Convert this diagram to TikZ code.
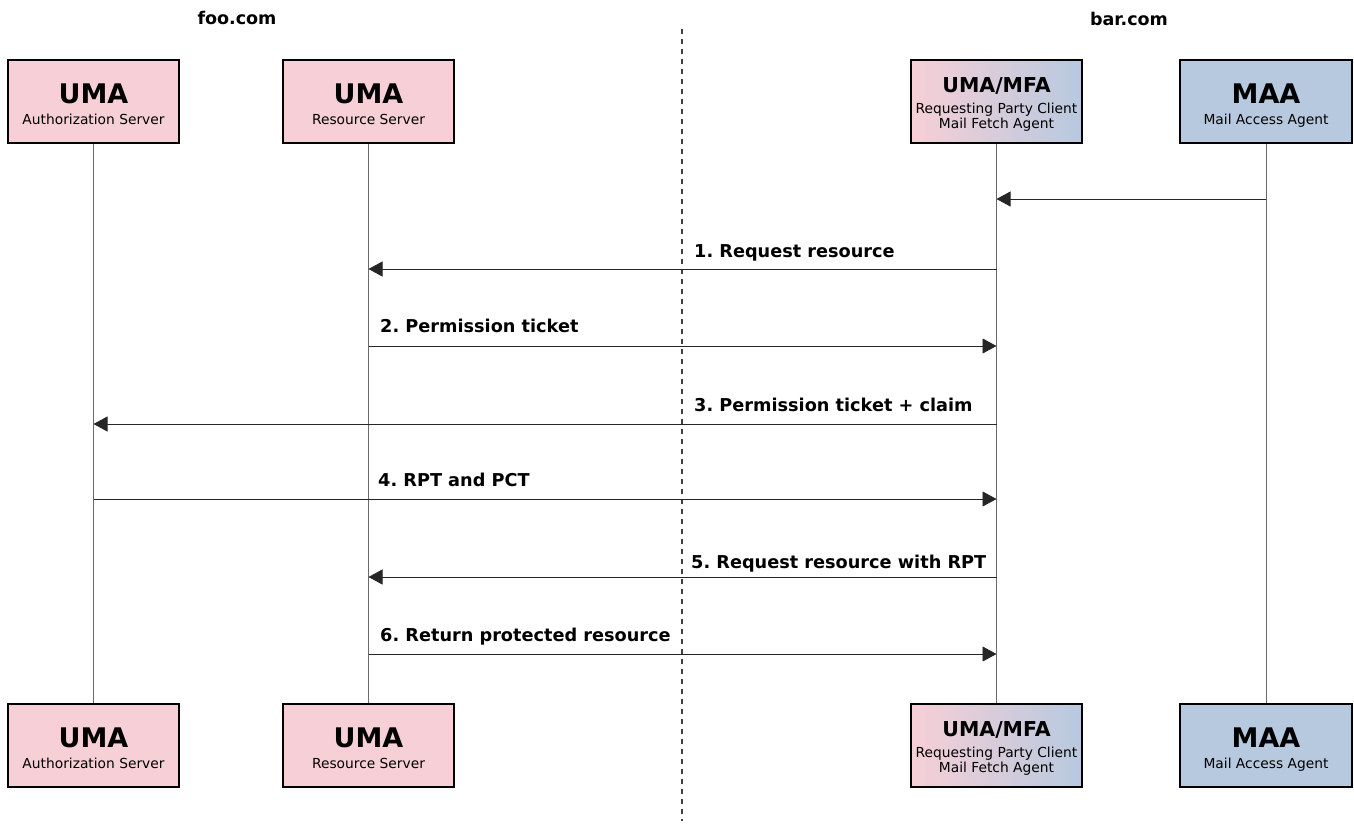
\documentclass[tikz,border=0pt]{standalone}
\usepackage{fontspec}
\setmainfont{DejaVu Sans}
\usetikzlibrary{arrows.meta}
\definecolor{umapink}{HTML}{F7CFD6}
\definecolor{maablue}{HTML}{B7C9DF}
\definecolor{lifegray}{HTML}{6A6A6A}
\tikzset{
  actor/.style={draw=black, line width=1.3pt, minimum width=171pt, minimum height=83pt, inner sep=0pt, align=center, anchor=center, font=\fontsize{13.8}{15}\selectfont},
  pinkbox/.style={actor, fill=umapink},
  bluebox/.style={actor, fill=maablue},
  mixbox/.style={actor, left color=umapink, right color=maablue},
  lifeline/.style={draw=lifegray, line width=1pt},
  msg/.style={draw=black!85, line width=0.9pt, -{Triangle[length=14pt,width=15pt]}},
  msglabel/.style={anchor=base west, inner sep=0pt, font=\fontsize{17.7}{21}\selectfont\bfseries},
  sitelabel/.style={inner sep=0pt, font=\fontsize{17.5}{20}\selectfont\bfseries},
  divider/.style={draw=black!75, line width=1.3pt, dash pattern=on 5pt off 5pt},
}
\newcommand{\bigtitle}[2]{\rule{0pt}{#2}{\fontsize{27}{30}\selectfont\bfseries #1}}
\newcommand{\midtitle}[1]{\rule{0pt}{21pt}{\fontsize{20.5}{24}\selectfont\bfseries #1}}
\begin{document}
\frenchspacing
\begin{tikzpicture}[x=1pt,y=-1pt]
\useasboundingbox (0,0) rectangle (1354,825);

% domains
\node[sitelabel] (foo) at (237,18) {foo.com};
\node[sitelabel] (bar) at (1129,19) {bar.com};

% divider
\coordinate (dtop) at (682,29);
\coordinate (dbot) at (682,821);
\draw[divider] (dtop) -- (dbot);

% lifelines
\coordinate (asT) at (93.5,143);
\coordinate (asB) at (93.5,704);
\coordinate (rsT) at (368.5,143);
\coordinate (rsB) at (368.5,704);
\coordinate (mfT) at (996.5,143);
\coordinate (mfB) at (996.5,704);
\coordinate (maT) at (1266,143);
\coordinate (maB) at (1266,704);
\draw[lifeline] (asT) -- (asB);
\draw[lifeline] (rsT) -- (rsB);
\draw[lifeline] (mfT) -- (mfB);
\draw[lifeline] (maT) -- (maB);

% top actors
\node[pinkbox] (as1) at (93.5,101.5) {\bigtitle{UMA}{25pt}\\[6.5pt]Authorization Server};
\node[pinkbox] (rs1) at (368.5,101.5) {\bigtitle{UMA}{25pt}\\[6.5pt]Resource Server};
\node[mixbox] (mf1) at (996.5,101.5) {\midtitle{UMA/MFA}\\[6.6pt]Requesting Party Client\\Mail Fetch Agent};
\node[bluebox, minimum width=172pt] (ma1) at (1266,101.5) {\bigtitle{MAA}{28.3pt}\\[6.5pt]Mail Access Agent};

% bottom actors
\node[pinkbox] (as2) at (93.5,745.5) {\bigtitle{UMA}{25pt}\\[6.5pt]Authorization Server};
\node[pinkbox] (rs2) at (368.5,745.5) {\bigtitle{UMA}{25pt}\\[6.5pt]Resource Server};
\node[mixbox] (mf2) at (996.5,745.5) {\midtitle{UMA/MFA}\\[6.6pt]Requesting Party Client\\Mail Fetch Agent};
\node[bluebox, minimum width=172pt] (ma2) at (1266,745.5) {\bigtitle{MAA}{28.3pt}\\[6.5pt]Mail Access Agent};

% messages
\draw[msg] (maT |- 0,199) -- (mfT |- 0,199);

\draw[msg] (mfT |- 0,269) -- (rsT |- 0,269);
\node[msglabel] (l1) at (694,257) {1. Request resource};

\draw[msg] (rsT |- 0,346) -- (mfT |- 0,346);
\node[msglabel] (l2) at (380,332) {2. Permission ticket};

\draw[msg] (mfT |- 0,424) -- (asT |- 0,424);
\node[msglabel] (l3) at (694,411) {3. Permission ticket + claim};

\draw[msg] (asT |- 0,499) -- (mfT |- 0,499);
\node[msglabel] (l4) at (378,486) {4. RPT and PCT};

\draw[msg] (mfT |- 0,577) -- (rsT |- 0,577);
\node[msglabel] (l5) at (691,568) {5. Request resource with RPT};

\draw[msg] (rsT |- 0,654) -- (mfT |- 0,654);
\node[msglabel] (l6) at (380,641) {6. Return protected resource};
\end{tikzpicture}
\end{document}
